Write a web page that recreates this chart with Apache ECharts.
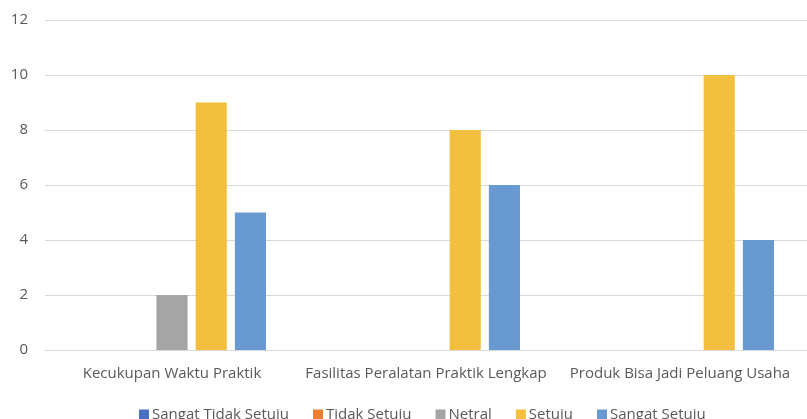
<!DOCTYPE html>
<html><head><meta charset="utf-8">
<script src="https://cdn.jsdelivr.net/npm/echarts@6/dist/echarts.min.js"></script>
<style>html,body{margin:0;padding:0;background:#fff}#c{width:807px;height:419px}</style>
</head><body><div id="c"></div>
<script>
const categories = ["Kecukupan Waktu Praktik", "Fasilitas Peralatan Praktik Lengkap", "Produk Bisa Jadi Peluang Usaha"];
const seriesNames = ["Sangat Tidak Setuju", "Tidak Setuju", "Netral", "Setuju", "Sangat Setuju"];
const sangatTidakSetuju = [0, 0, 0];
const tidakSetuju = [0, 0, 0];
const netral = [2, 0, 0];
const setuju = [9, 8, 10];
const sangatSetuju = [5, 6, 4];
const yTicks = [0, 2, 4, 6, 8, 10, 12];

const colors = ["#4A70C2", "#ED7D31", "#A5A5A5", "#F2C03E", "#6899D0"];
const values = [sangatTidakSetuju, tidakSetuju, netral, setuju, sangatSetuju];
const font = "'Open Sans', sans-serif";

const chart = echarts.init(document.getElementById('c'));
chart.setOption({
  animation: false,
  textStyle: { fontFamily: font },
  grid: { left: 45, right: 0, top: 20, bottom: 69 },
  legend: {
    left: 134, bottom: 0, top: 402,
    itemWidth: 10, itemHeight: 10, itemGap: 24,
    icon: 'rect',
    textStyle: { fontSize: 15, color: '#595959', fontFamily: font, padding: [0,0,0,-2] },
    data: seriesNames
  },
  xAxis: {
    type: 'category', data: categories,
    axisLine: { lineStyle: { color: '#D9D9D9', width: 1 } },
    axisTick: { show: false },
    axisLabel: { fontSize: 15, color: '#595959', margin: 16, interval: 0 }
  },
  yAxis: {
    type: 'value', min: 0, max: 12, interval: 2,
    axisLine: { show: false }, axisTick: { show: false },
    splitLine: { lineStyle: { color: '#D9D9D9', width: 1 } },
    axisLabel: { fontSize: 15, color: '#595959', margin: 17 }
  },
  series: seriesNames.map((n, i) => ({
    name: n, type: 'bar', data: values[i],
    itemStyle: { color: colors[i] },
    barGap: '26%', barCategoryGap: '26%'
  }))
});
</script></body></html>
